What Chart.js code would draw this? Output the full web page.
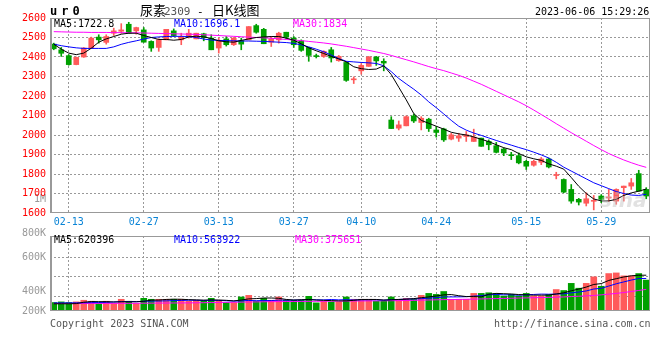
<!DOCTYPE html>
<html><head><meta charset="utf-8">
<script src="https://cdn.jsdelivr.net/npm/chart.js@4.4.0/dist/chart.umd.min.js"></script>
<style>
html,body{margin:0;padding:0;background:#fff;}
#wrap{position:relative;width:660px;height:360px;overflow:hidden;background:#fff;}
canvas{position:absolute;left:0;}
.t{position:absolute;font-family:"DejaVu Sans Mono",monospace;font-size:10px;line-height:10px;white-space:pre;}
.c{position:absolute;font-family:'Noto Sans CJK SC',sans-serif;font-size:13px;line-height:13px;white-space:pre;color:#000;}
</style></head><body>
<div id="wrap">
<canvas id="pc" width="660" height="226" style="top:0"></canvas>
<canvas id="vc" width="660" height="134" style="top:226px"></canvas>
<div class="t" style="left:50px;top:5px;font-size:12px;line-height:12px;font-weight:bold;letter-spacing:4px;">ur0</div>
<div class="c" style="left:140px;top:3px;">尿素</div>
<div class="t" style="left:164px;top:6px;font-size:11px;line-height:11px;color:#555;">2309</div>
<div class="t" style="left:197px;top:6px;font-size:11px;line-height:11px;color:#000;">-</div>
<div class="c" style="left:212px;top:3px;">日K线图</div>
<div class="t" style="left:535px;top:7px;color:#000;">2023-06-06 15:29:26</div>
<div class="t" style="left:54px;top:19px;color:#000;">MA5:1722.8</div>
<div class="t" style="left:174px;top:19px;color:#0000ff;">MA10:1696.1</div>
<div class="t" style="left:293px;top:19px;color:#ff00ff;">MA30:1834</div>
<div class="t" style="left:54px;top:235px;color:#000;">MA5:620396</div>
<div class="t" style="left:174px;top:235px;color:#0000ff;">MA10:563922</div>
<div class="t" style="left:295px;top:235px;color:#ff00ff;">MA30:375651</div>
<div class="t" style="left:50px;top:319px;color:#555;">Copyright 2023 SINA.COM</div>
<div class="t" style="left:494px;top:319px;color:#555;">http://finance.sina.com.cn</div>
<div class="t" style="left:600px;top:190px;font-family:'DejaVu Sans',sans-serif;font-size:20px;line-height:20px;font-style:italic;font-weight:bold;color:rgba(190,190,190,0.45);">sina</div>
</div>
<script>
const dates = ['02-09','02-10','02-13','02-14','02-15','02-16','02-17','02-20','02-21','02-22','02-23','02-24','02-27','02-28',
'03-01','03-02','03-03','03-06','03-07','03-08','03-09','03-10','03-13','03-14','03-15','03-16','03-17','03-20','03-21','03-22','03-23','03-24','03-27','03-28','03-29','03-30','03-31',
'04-03','04-04','04-06','04-07','04-10','04-11','04-12','04-13','04-14','04-17','04-18','04-19','04-20','04-21','04-24','04-25','04-26','04-27','04-28',
'05-04','05-05','05-08','05-09','05-10','05-11','05-12','05-15','05-16','05-17','05-18','05-19','05-22','05-23','05-24','05-25','05-26','05-29','05-30','05-31',
'06-01','06-02','06-05','06-06'];
const shownDates = ['02-13','02-27','03-13','03-27','04-10','04-24','05-15','05-29'];

const opens  = [2466,2437,2407,2361,2400,2446,2502,2475,2522,2532,2568,2534,2539,2480,2449,2488,2534,2488,2505,2493,2519,2497,2446,2493,2463,2483,2488,2561,2542,2476,2488,2527,2497,2483,2449,2407,2403,2437,2381,2372,
2283,2329,2352,2400,2378,2077,2035,2047,2098,2064,2081,2026,2031,1979,1984,1992,1967,1984,1967,1945,1928,1899,1894,1865,1845,1860,1877,1792,1772,1721,1670,1650,1660,1687,1677,1661,1730,1738,1802,1721];
const highs  = [2471,2449,2412,2400,2449,2502,2514,2514,2548,2571,2578,2553,2551,2483,2493,2542,2544,2522,2542,2522,2522,2514,2497,2505,2500,2497,2556,2568,2547,2505,2527,2527,2505,2488,2449,2415,2432,2449,2408,2376,
2298,2366,2403,2403,2391,2094,2072,2098,2108,2094,2086,2043,2035,2009,2009,2018,2030,1984,1975,1962,1933,1911,1908,1870,1870,1885,1882,1809,1775,1746,1675,1704,1690,1694,1721,1724,1738,1777,1819,1730];
const lows   = [2437,2403,2358,2360,2398,2444,2471,2466,2510,2522,2522,2517,2476,2429,2429,2488,2505,2463,2497,2493,2483,2437,2420,2456,2459,2437,2488,2522,2468,2454,2471,2493,2449,2429,2378,2395,2398,2374,2378,2275,
2264,2312,2352,2357,2329,2033,2026,2047,2064,2026,2018,1989,1967,1975,1967,1967,1967,1942,1924,1908,1894,1874,1852,1823,1840,1848,1831,1775,1704,1650,1641,1636,1616,1653,1658,1645,1661,1721,1712,1673];
const closes = [2442,2419,2361,2398,2446,2497,2488,2505,2534,2539,2522,2551,2476,2446,2488,2542,2510,2505,2522,2522,2500,2437,2483,2463,2497,2466,2556,2527,2468,2493,2522,2502,2463,2434,2408,2402,2429,2395,2403,2280,
2286,2357,2400,2380,2369,2033,2052,2094,2072,2086,2033,2013,1975,2001,1996,2001,1989,1942,1950,1911,1908,1894,1857,1840,1865,1877,1836,1796,1707,1661,1656,1673,1665,1670,1682,1721,1738,1755,1712,1687];

const ma5  = [2466,2440,2420,2412,2420,2445,2476,2493,2505,2517,2522,2522,2510,2500,2490,2490,2486,2490,2503,2507,2503,2495,2483,2478,2476,2485,2493,2500,2503,2505,2505,2497,2486,2468,2447,2432,2418,2403,2390,2375,
2350,2340,2336,2338,2355,2310,2245,2180,2110,2075,2060,2045,2030,2014,2006,2000,1990,1978,1966,1950,1935,1925,1905,1888,1878,1870,1852,1840,1825,1782,1737,1700,1672,1662,1662,1670,1690,1703,1712,1722.8];
const ma10 = [2466,2458,2452,2447,2444,2444,2444,2444,2452,2465,2475,2483,2492,2500,2503,2505,2506,2506,2505,2500,2492,2487,2485,2484,2483,2482,2482,2481,2480,2478,2476,2474,2470,2462,2452,2440,2427,2410,2392,2378,
2375,2372,2370,2367,2355,2325,2290,2262,2235,2205,2170,2140,2108,2075,2045,2025,2010,1998,1985,1972,1960,1948,1936,1925,1912,1898,1882,1860,1835,1815,1795,1775,1755,1740,1725,1710,1700,1692,1690,1696.1];
const ma30 = [2530,2529,2528,2527,2527,2526,2526,2526,2525,2525,2524,2524,2523,2522,2521,2520,2519,2518,2517,2516,2514,2512,2510,2508,2506,2504,2502,2500,2498,2496,2493,2490,2487,2484,2480,2476,2472,2467,2461,2455,
2448,2441,2434,2426,2418,2408,2397,2386,2375,2363,2351,2340,2330,2318,2306,2292,2276,2260,2242,2224,2206,2188,2170,2150,2128,2105,2082,2058,2035,2012,1990,1968,1946,1925,1905,1888,1872,1858,1845,1834];

const volumes = [147,158,147,158,186,169,130,169,130,203,169,130,220,203,203,203,203,203,169,186,180,220,186,147,147,243,271,169,220,186,243,186,186,186,254,141,169,158,158,243,
203,203,203,169,169,243,203,220,203,271,305,288,338,203,203,203,305,305,316,305,259,288,259,305,259,259,288,372,355,479,395,479,592,429,649,660,609,609,649,536].map(v => v * 1000);
const volMa5 = [125,125,125,128,152,164,162,162,157,160,160,160,168,188,190,200,205,203,197,193,188,192,190,185,175,190,210,215,225,225,220,200,190,195,200,190,185,180,175,175,
185,200,200,200,190,195,200,205,215,230,245,260,280,285,265,250,250,245,290,305,300,295,285,280,275,275,275,295,315,350,380,415,460,475,530,560,590,610,620,620.396].map(v => v * 1000);
const volMa10 = [140,140,141,142,143,145,147,150,155,163,165,162,168,172,172,176,180,183,186,185,183,185,183,178,172,176,183,179,181,181,188,188,189,192,199,194,193,199,193,196,
191,193,195,195,187,197,200,206,210,213,223,231,244,244,245,248,258,267,281,285,281,281,273,282,287,293,291,294,298,315,329,348,381,393,432,472,504,536,563,563.922].map(v => v * 1000);
const volMa30 = [130,130,130,130,131,131,131,132,132,133,133,134,135,136,137,138,139,140,141,142,144,146,148,150,152,154,156,158,160,162,163,164,165,166,167,168,169,170,171,172,
173,174,175,176,177,178,180,182,185,188,191,194,197,199,201,203,206,209,212,215,218,221,224,227,230,233,236,240,244,250,256,262,270,280,292,305,320,338,356,375.651].map(v => v * 1000);

const priceTicks = [1600,1700,1800,1900,2000,2100,2200,2300,2400,2500,2600];
const volLabels = ['800K','600K','400K','200K'];

const UP = '#ff5a5a', DOWN = '#00a000';
const candleColors = opens.map((o, i) => closes[i] >= o ? UP : DOWN);
const FONT = {family: 'DejaVu Sans Mono', size: 10};
const GRID = '#999999';
const NONE = 'rgba(0,0,0,0)';

const frame = {
  id: 'frame',
  afterDraw(chart) {
    const {ctx, chartArea: a} = chart;
    ctx.save();
    ctx.strokeStyle = '#999';
    ctx.lineWidth = 1;
    ctx.strokeRect(a.left + 0.5, a.top + 0.5, a.right - a.left - 1, a.bottom - a.top - 1);
    ctx.fillStyle = '#999';
    ctx.fillRect(a.left, a.top, 2, a.bottom - a.top);
    ctx.restore();
  }
};

function xScale(showLabels, height) {
  return {
    type: 'category', offset: true,
    grid: {display: true, drawOnChartArea: true, offset: false, drawTicks: false, lineWidth: 1,
      color: c => shownDates.includes(dates[c.index]) ? GRID : NONE},
    border: {display: false, dash: [2, 2]},
    ticks: {display: showLabels, autoSkip: false, maxRotation: 0, minRotation: 0, padding: 3,
      color: '#0a84d6', font: FONT,
      callback: (v, i) => shownDates.includes(dates[i]) ? dates[i] : ''},
    afterFit: s => { s.height = height; }
  };
}

// price chart
const MLABEL = 1668;
new Chart(document.getElementById('pc'), {
  type: 'bar',
  data: {
    labels: dates,
    datasets: [
      {type: 'line', data: ma5, borderColor: '#000', borderWidth: 1, pointRadius: 0, tension: 0, order: 0},
      {type: 'line', data: ma10, borderColor: '#0000ff', borderWidth: 1, pointRadius: 0, tension: 0, order: 0},
      {type: 'line', data: ma30, borderColor: '#ff00ff', borderWidth: 1, pointRadius: 0, tension: 0, order: 0},
      {data: opens.map((o, i) => [o, closes[i]]), backgroundColor: candleColors, barThickness: 5, minBarLength: 1, grouped: false, borderWidth: 0, order: 1},
      {data: lows.map((l, i) => [l, highs[i]]), backgroundColor: candleColors, barThickness: 1, grouped: false, borderWidth: 0, order: 2}
    ]
  },
  options: {
    responsive: false, animation: false, devicePixelRatio: 1,
    layout: {padding: {left: 0, right: 10, top: 18, bottom: 0}},
    plugins: {legend: {display: false}, tooltip: {enabled: false}},
    scales: {
      x: xScale(true, 13),
      y: {
        min: 1600, max: 2600,
        afterBuildTicks: s => { s.ticks = priceTicks.concat([MLABEL]).sort((a, b) => a - b).map(v => ({value: v})); },
        grid: {display: true, drawOnChartArea: true, drawTicks: false, lineWidth: 1,
          color: c => (c.tick && c.tick.value > 1600 && c.tick.value < 2600 && c.tick.value !== MLABEL) ? GRID : NONE},
        border: {display: false, dash: [2, 2]},
        ticks: {padding: 4, font: FONT, color: c => c.tick && c.tick.value === MLABEL ? '#999' : '#ff0000',
          callback: v => v === MLABEL ? '1M' : String(v)},
        afterFit: s => { s.width = 50; }
      }
    }
  },
  plugins: [frame]
});

// volume chart
const VMAX = 1300000;
const volTicks = [
  {value: VMAX * 80 / 77, label: volLabels[0], grid: false},
  {value: VMAX * 55 / 77, label: volLabels[1], grid: true},
  {value: VMAX * 35 / 77, label: '', grid: true},
  {value: VMAX * 20 / 77, label: volLabels[2], grid: false},
  {value: VMAX * 15 / 77, label: '', grid: true},
  {value: 0, label: volLabels[3], grid: false}
];
new Chart(document.getElementById('vc'), {
  type: 'bar',
  data: {
    labels: dates,
    datasets: [
      {type: 'line', data: volMa5, borderColor: '#000', borderWidth: 1, pointRadius: 0, tension: 0, order: 0},
      {type: 'line', data: volMa10, borderColor: '#0000ff', borderWidth: 1, pointRadius: 0, tension: 0, order: 0},
      {type: 'line', data: volMa30, borderColor: '#ff00ff', borderWidth: 1, pointRadius: 0, tension: 0, order: 0},
      {data: volumes, backgroundColor: candleColors, barThickness: 6, borderWidth: 0, order: 1}
    ]
  },
  options: {
    responsive: false, animation: false, devicePixelRatio: 1,
    layout: {padding: {left: 0, right: 10, top: 8, bottom: 0}},
    plugins: {legend: {display: false}, tooltip: {enabled: false}},
    scales: {
      x: xScale(false, 49),
      y: {
        min: 0, max: VMAX,
        afterBuildTicks: s => { s.ticks = volTicks.map(t => ({value: t.value})).sort((a, b) => a.value - b.value); },
        grid: {display: true, drawOnChartArea: true, drawTicks: false, lineWidth: 1, color: c => {
          const t = c.tick && volTicks.find(q => Math.abs(q.value - c.tick.value) < 1);
          return t && t.grid ? GRID : NONE;
        }},
        border: {display: false, dash: [2, 2]},
        ticks: {padding: 4, font: FONT, color: '#999',
          callback: v => { const t = volTicks.find(q => Math.abs(q.value - v) < 1); return t ? t.label : ''; }},
        afterFit: s => { s.width = 50; }
      }
    }
  },
  plugins: [frame]
});
</script>
</body></html>
